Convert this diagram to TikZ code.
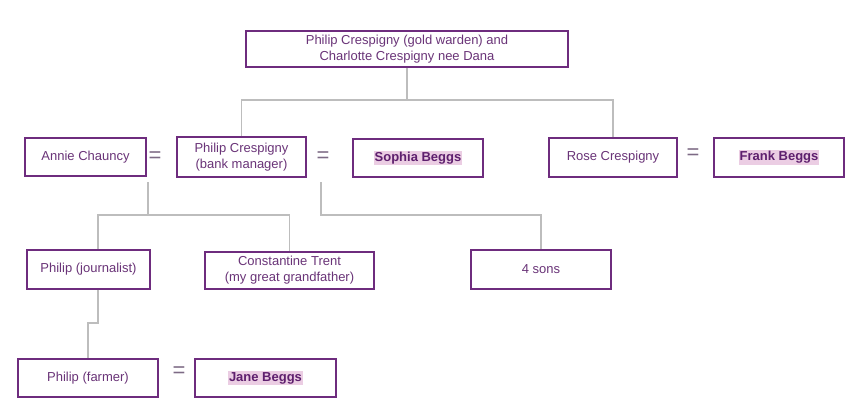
\documentclass[tikz,border=0pt]{standalone}
\usepackage{fontspec}
\setmainfont{Liberation Sans}
\definecolor{bord}{HTML}{6E2C7E}
\definecolor{txt}{HTML}{6A3478}
\definecolor{hl}{HTML}{EBCDE3}
\definecolor{boldtxt}{HTML}{5E1F6E}
\definecolor{conn}{HTML}{BDBDBD}
\definecolor{eqc}{HTML}{7D6A85}
\newcommand{\hlname}[1]{{\setlength{\fboxsep}{1pt}\colorbox{hl}{\color{boldtxt}\bfseries #1}}}
\tikzset{
  person/.style={draw=bord, line width=1.8pt, fill=white, align=center, inner sep=0pt,
    font=\fontsize{13}{16}\selectfont, text=txt},
  link/.style={draw=conn, line width=1.8pt},
  eqsign/.style={font=\fontsize{22}{22}\selectfont, text=eqc, inner sep=0pt}
}
\begin{document}
\begin{tikzpicture}[x=1pt,y=-1pt]
\useasboundingbox (0,0) rectangle (858,415);
\node[person, minimum width=322pt, minimum height=36pt] (top) at (407,49) {Philip Crespigny (gold warden) and\\Charlotte Crespigny nee Dana};
\node[person, minimum width=121pt, minimum height=38pt] (annie) at (85.5,157) {Annie Chauncy};
\node[person, minimum width=129pt, minimum height=40pt] (pbank) at (241.5,157) {Philip Crespigny\\(bank manager)};
\node[person, minimum width=130pt, minimum height=38pt] (sophia) at (418,158) {\hlname{Sophia Beggs}};
\node[person, minimum width=128pt, minimum height=39pt] (rose) at (613,157.5) {Rose Crespigny};
\node[person, minimum width=130pt, minimum height=39pt] (frank) at (779,157.5) {\hlname{Frank Beggs}};
\node[person, minimum width=123pt, minimum height=39pt] (pjourn) at (88.5,269.5) {Philip (journalist)};
\node[person, minimum width=169pt, minimum height=37pt] (const) at (289.5,270.5) {Constantine Trent\\(my great grandfather)};
\node[person, minimum width=140pt, minimum height=39pt] (sons) at (541,269.5) {4 sons};
\node[person, minimum width=140pt, minimum height=38pt] (pfarm) at (88,378) {Philip (farmer)};
\node[person, minimum width=141pt, minimum height=38pt] (jane) at (265.5,378) {\hlname{Jane Beggs}};
% equals signs
\node[eqsign] (eq1) at (155,157) {=};
\node[eqsign] (eq2) at (323,157) {=};
\node[eqsign] (eq3) at (693,154) {=};
\node[eqsign] (eq4) at (179,372) {=};
% junction points
\coordinate (j0) at (407,100);
\coordinate (m1) at (148,182);
\coordinate (j1) at (148,215);
\coordinate (m2) at (321,182);
\coordinate (j2) at (321,215);
\coordinate (k1) at (98,323);
% connectors
\draw[link] (top.south) -- (j0) -| (rose.north);
\draw[link] (j0) -| (pbank.north);
\draw[link] (m1) -- (j1) -| (pjourn.north -| k1);
\draw[link] (j1) -| (const.north);
\draw[link] (m2) -- (j2) -| (sons.north);
\draw[link] (pjourn.south -| k1) -- (k1) -| (pfarm.north);
\end{tikzpicture}
\end{document}
